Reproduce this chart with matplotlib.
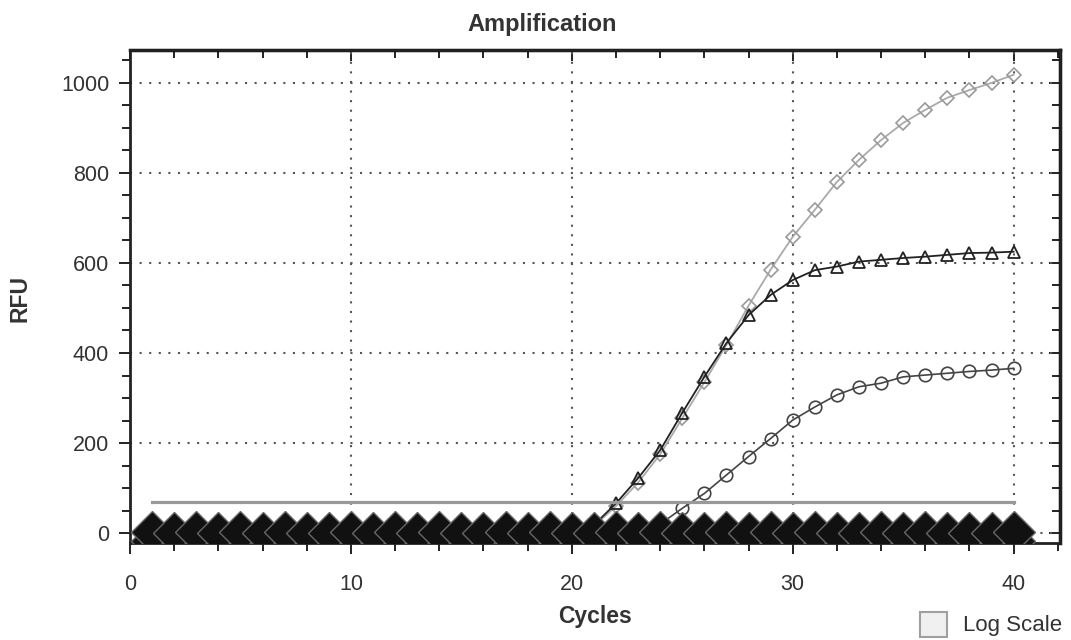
import matplotlib
matplotlib.use("Agg")
import matplotlib.pyplot as plt
from matplotlib.patches import Rectangle
from matplotlib.ticker import MultipleLocator

plt.rcParams['font.family'] = ['Liberation Sans', 'DejaVu Sans']

# 데이터 (사이클 1~40)
cycles = list(range(1, 41))

# 옅은 회색 마름모 시리즈
rfu_diamond = [2, 2, 2, 2, 2, 2, 2, 2, 2, 2,
               2, 2, 2, 2, 2, 2, 2, 3, 4, 6,
               15, 60, 112, 175, 255, 335, 418, 505, 585, 658,
               718, 780, 829, 873, 911, 940, 967, 984, 1000, 1018]

# 검은 삼각형 시리즈
rfu_triangle = [2, 2, 2, 2, 2, 2, 2, 2, 2, 2,
                2, 2, 2, 2, 2, 2, 2, 3, 5, 8,
                18, 66, 122, 184, 267, 347, 422, 484, 529, 562,
                584, 592, 603, 607, 611, 614, 618, 622, 623, 625]

# 원 시리즈
rfu_circle = [2, 2, 2, 2, 2, 2, 2, 2, 2, 2,
              2, 2, 2, 2, 2, 2, 2, 2, 2, 2,
              2, 3, 5, 20, 55, 88, 129, 170, 210, 251,
              280, 307, 325, 333, 347, 351, 355, 359, 362, 366]

# 음성 대조군 (바닥에 깔린 검은 마름모들)
neg_a = [2, 1, 2, 0, 2, 1, 2, 1, 0, 2,
         1, 2, 1, 2, 0, 1, 2, 1, 2, 1,
         0, 2, 1, 2, 1, 0, 2, 1, 2, 1,
         2, 1, 0, 2, 1, 2, 1, 0, 1, 2]
neg_b = [-18, -17, -18, -19, -18, -17, -18, -18, -19, -17,
         -18, -17, -18, -19, -18, -17, -18, -18, -19, -17,
         -18, -17, -18, -19, -18, -17, -18, -18, -19, -17,
         -18, -17, -18, -19, -18, -17, -18, -18, -19, -17]

threshold = 70
thr_x = [1, 40]

fig = plt.figure(figsize=(10.71, 6.4), dpi=100)
ax = fig.add_axes([130/1071, 1-543/640, 930/1071, 493/640])

# 증폭 곡선
ax.plot(cycles, rfu_diamond, color='#aaaaaa', lw=1.3, marker='D', ms=7,
        mfc='none', mec='#9a9a9a', mew=1.2, zorder=2)
ax.plot(cycles, rfu_triangle, color='#222222', lw=1.3, marker='^', ms=9,
        mfc='none', mec='#222222', mew=1.3, zorder=2.2)
ax.plot(cycles, rfu_circle, color='#444444', lw=1.2, marker='o', ms=9,
        mfc='none', mec='#444444', mew=1.2, zorder=2.1)

# 음성 대조군
for neg in [neg_b, neg_a]:
    ax.plot(cycles, neg, ls='none', marker='D', ms=21, mfc='#111111',
            mec='#666666', mew=1.0, zorder=3)

# 임계선
ax.plot(thr_x, [threshold, threshold], color='#999999', lw=2.3, zorder=3.5)

ax.set_xlim(0, 42.1)
ax.set_ylim(-22, 1073)
ax.xaxis.set_major_locator(MultipleLocator(10))
ax.xaxis.set_minor_locator(MultipleLocator(2))
ax.yaxis.set_major_locator(MultipleLocator(200))
ax.yaxis.set_minor_locator(MultipleLocator(50))

ax.grid(True, which='major', color='#555555', lw=1.5, ls=(0, (1, 3.6)))
ax.set_axisbelow(True)

ax.tick_params(which='both', direction='out', width=1.4, colors='#222222',
               labelcolor='#333333', labelsize=15.5)
ax.tick_params(which='major', length=8)
ax.tick_params(which='minor', length=5.5)
ax.tick_params(axis='x', pad=14)
ax.tick_params(axis='y', pad=7)

for s in ax.spines.values():
    s.set_linewidth(2)
    s.set_color('#222222')

# 위/오른쪽 안쪽 눈금
topx = ax.secondary_xaxis('top')
topx.xaxis.set_major_locator(MultipleLocator(10))
topx.xaxis.set_minor_locator(MultipleLocator(2))
topx.tick_params(which='both', direction='in', width=1.4, labeltop=False, colors='#222222')
topx.tick_params(which='major', length=8)
topx.tick_params(which='minor', length=5.5)
topx.spines['top'].set_linewidth(2.5)

righty = ax.secondary_yaxis('right')
righty.yaxis.set_major_locator(MultipleLocator(200))
righty.yaxis.set_minor_locator(MultipleLocator(50))
righty.tick_params(which='both', direction='in', width=1.4, labelright=False, colors='#222222')
righty.tick_params(which='major', length=8)
righty.tick_params(which='minor', length=5.5)
righty.spines['right'].set_linewidth(2.5)

# 텍스트
fig.text(542/1071, 1-25/640, 'Amplification', ha='center', va='center',
         fontsize=17, fontweight='bold', color='#333333')
fig.text(595/1071, 1-617/640, 'Cycles', ha='center', va='center',
         fontsize=16.5, fontweight='bold', color='#333333')
fig.text(20/1071, 1-298/640, 'RFU', ha='center', va='center', rotation=90,
         fontsize=16.5, fontweight='bold', color='#333333')

# Log Scale 체크박스
fig.patches.append(Rectangle((920/1071, 1-637/640), 27/1071, 25/640,
                             transform=fig.transFigure, facecolor='#f0f0f0',
                             edgecolor='#a0a0a0', lw=1.5))
fig.text(963/1071, 1-625/640, 'Log Scale', ha='left', va='center',
         fontsize=16, color='#333333')

plt.savefig('out.png', dpi=100)
